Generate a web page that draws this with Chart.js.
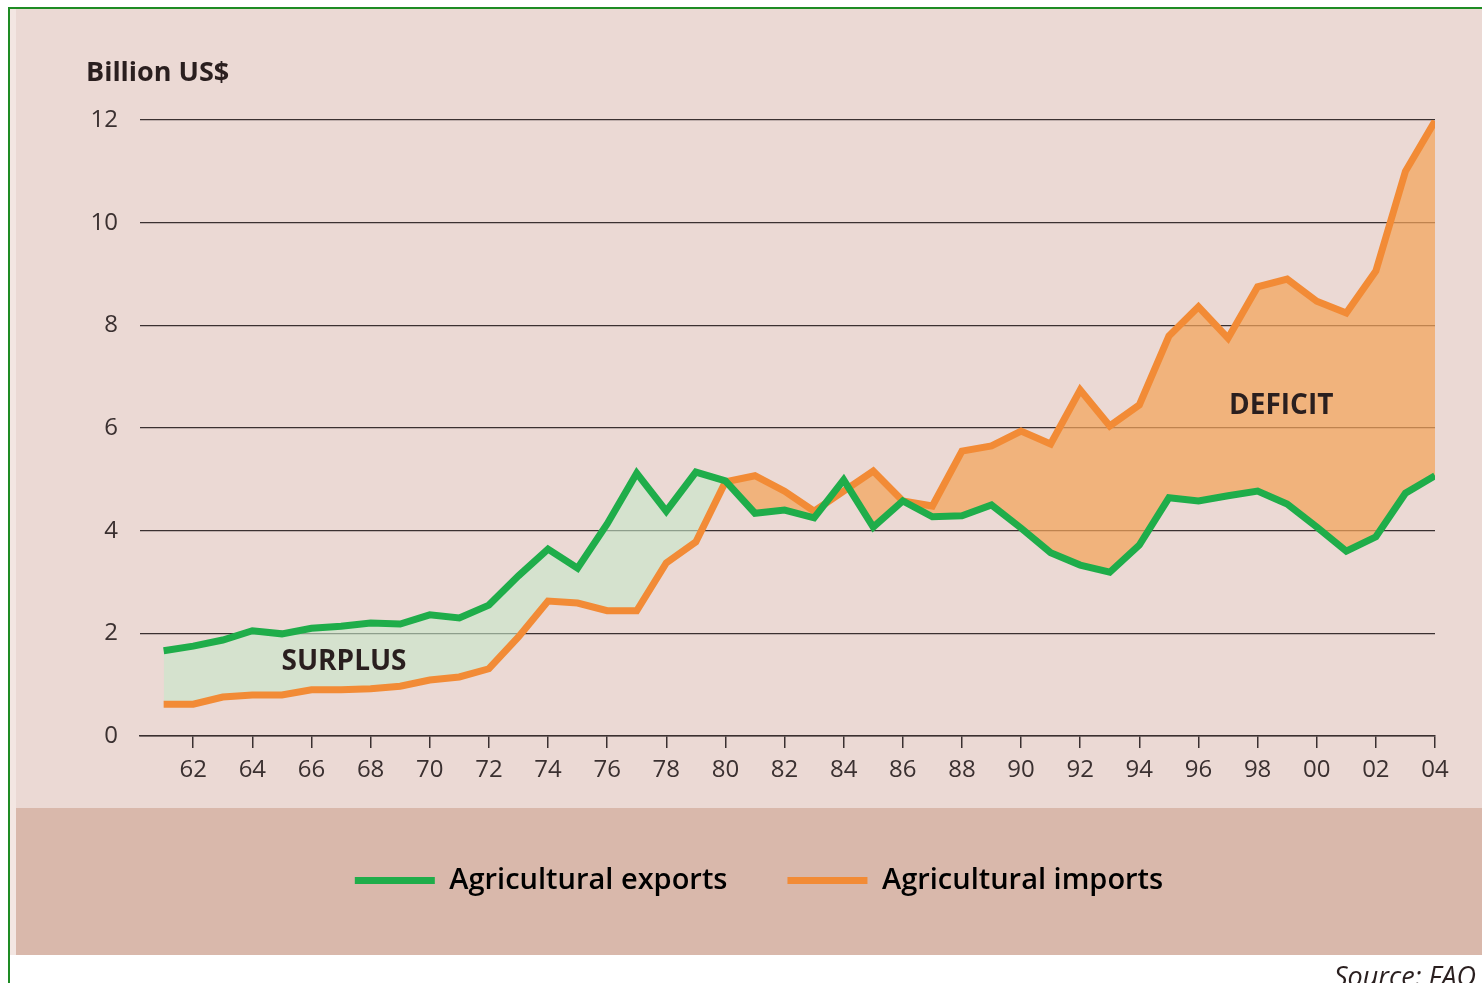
<!DOCTYPE html>
<html>
<head>
<meta charset="utf-8">
<title>Agricultural trade</title>
<script src="https://cdn.jsdelivr.net/npm/chart.js@4.4.1/dist/chart.umd.min.js"></script>
<style>
  body { margin: 0; background: #fff; }
  canvas { display: block; }
</style>
</head>
<body>
<canvas id="grafico" width="1482" height="983"></canvas>
<script>
// dati (miliardi di US$)
const anni = [1961, 1962, 1963, 1964, 1965, 1966, 1967, 1968, 1969, 1970,
  1971, 1972, 1973, 1974, 1975, 1976, 1977, 1978, 1979, 1980,
  1981, 1982, 1983, 1984, 1985, 1986, 1987, 1988, 1989, 1990,
  1991, 1992, 1993, 1994, 1995, 1996, 1997, 1998, 1999, 2000,
  2001, 2002, 2003, 2004];
const esportazioni = [1.66, 1.75, 1.87, 2.05, 1.99, 2.10, 2.14, 2.20, 2.18, 2.36,
  2.30, 2.55, 3.12, 3.64, 3.27, 4.13, 5.12, 4.38, 5.14, 4.97,
  4.34, 4.40, 4.25, 4.99, 4.07, 4.58, 4.27, 4.29, 4.50, 4.05,
  3.57, 3.33, 3.19, 3.72, 4.64, 4.58, 4.68, 4.77, 4.52, 4.07,
  3.60, 3.88, 4.73, 5.07];
const importazioni = [0.62, 0.62, 0.76, 0.80, 0.80, 0.90, 0.90, 0.92, 0.97, 1.09,
  1.15, 1.31, 1.93, 2.63, 2.59, 2.44, 2.44, 3.37, 3.78, 4.95,
  5.07, 4.77, 4.38, 4.77, 5.16, 4.58, 4.48, 5.55, 5.65, 5.94,
  5.69, 6.74, 6.04, 6.45, 7.79, 8.36, 7.75, 8.75, 8.90, 8.47,
  8.24, 9.06, 11.0, 11.98];
const tickAnni = [1962, 1964, 1966, 1968, 1970, 1972, 1974, 1976, 1978, 1980,
  1982, 1984, 1986, 1988, 1990, 1992, 1994, 1996, 1998, 2000, 2002, 2004];
const tickValori = [0, 2, 4, 6, 8, 10, 12];

const verde = "#1fad4a";
const arancio = "#f28b36";
const font = "'Open Sans', 'Noto Sans', sans-serif";

// sfondi e cornice
const sfondo = {
  id: "sfondo",
  beforeDraw(chart) {
    const c = chart.ctx;
    c.save();
    c.fillStyle = "#ffffff";
    c.fillRect(0, 0, chart.width, chart.height);
    c.fillStyle = "#f3e6e2";
    c.fillRect(9, 8, chart.width, 947);
    c.fillStyle = "#ebd9d4";
    c.fillRect(16, 8, chart.width, 800);
    c.fillStyle = "#d9b8ab";
    c.fillRect(16, 808, chart.width, 147);
    c.strokeStyle = "#1e8c24";
    c.lineWidth = 2;
    c.beginPath();
    c.moveTo(9, chart.height);
    c.lineTo(9, 8);
    c.lineTo(chart.width, 8);
    c.stroke();
    c.restore();
  },
};

// testi: unità, SURPLUS, DEFICIT, fonte
const testi = {
  id: "testi",
  afterDraw(chart) {
    const c = chart.ctx;
    const x = chart.scales.x;
    const y = chart.scales.y;
    c.save();
    c.fillStyle = "#2a1f1f";
    c.textBaseline = "middle";
    c.font = "bold 27px " + font;
    c.textAlign = "left";
    c.fillText("Billion US$", 86, 73);
    c.font = "bold 28px " + font;
    c.textAlign = "center";
    c.fillText("SURPLUS", x.getPixelForValue(1967.1), y.getPixelForValue(1.45));
    c.fillText("DEFICIT", x.getPixelForValue(1998.8), y.getPixelForValue(6.42));
    c.font = "italic 27px " + font;
    c.textAlign = "left";
    c.textBaseline = "alphabetic";
    c.fillText("Source: FAO", 1334, 986);
    c.restore();
  },
};

const ctx = document.getElementById("grafico").getContext("2d");
new Chart(ctx, {
  type: "line",
  data: {
    datasets: [
      {
        label: "Agricultural exports",
        data: anni.map((a, i) => ({ x: a, y: esportazioni[i] })),
        borderColor: verde,
        borderWidth: 7,
        pointRadius: 0,
        fill: false,
      },
      {
        label: "Agricultural imports",
        data: anni.map((a, i) => ({ x: a, y: importazioni[i] })),
        borderColor: arancio,
        borderWidth: 7,
        pointRadius: 0,
        fill: {
          target: 0,
          above: "rgba(243,164,90,0.72)",
          below: "rgba(199,232,202,0.6)",
        },
      },
    ],
  },
  options: {
    responsive: false,
    animation: false,
    layout: { padding: { top: 120, right: 47, left: 83, bottom: 78 } },
    scales: {
      x: {
        type: "linear",
        min: 1960.2,
        max: 2004,
        afterBuildTicks: (s) => { s.ticks = tickAnni.map((v) => ({ value: v })); },
        afterFit: (s) => { s.height = 70; },
        grid: { drawOnChartArea: false, drawTicks: true, tickLength: 12, color: "#3a3030", lineWidth: 1.5 },
        border: { display: true, color: "#3a3030", width: 1.5 },
        ticks: {
          color: "#3a3030",
          font: { family: font, size: 24 },
          padding: 8,
          maxRotation: 0,
          autoSkip: false,
          callback: (v) => String(v % 100).padStart(2, "0"),
        },
      },
      y: {
        min: 0,
        max: 12,
        afterBuildTicks: (s) => { s.ticks = tickValori.map((v) => ({ value: v })); },
        afterFit: (s) => { s.width = 57; },
        grid: { drawTicks: false, color: "#3a3030", lineWidth: 1.3 },
        border: { display: false },
        ticks: { color: "#3a3030", font: { family: font, size: 24 }, padding: 22 },
      },
    },
    plugins: {
      legend: {
        position: "bottom",
        labels: {
          boxWidth: 80,
          boxHeight: 7,
          padding: 60,
          color: "#2a1f1f",
          font: { family: font, size: 29, weight: "600" },
          generateLabels: (chart) =>
            chart.data.datasets.map((d, i) => ({
              text: d.label,
              fillStyle: d.borderColor,
              strokeStyle: d.borderColor,
              lineWidth: 0,
              datasetIndex: i,
            })),
        },
      },
      tooltip: { enabled: false },
    },
  },
  plugins: [sfondo, testi],
});
</script>
</body>
</html>
